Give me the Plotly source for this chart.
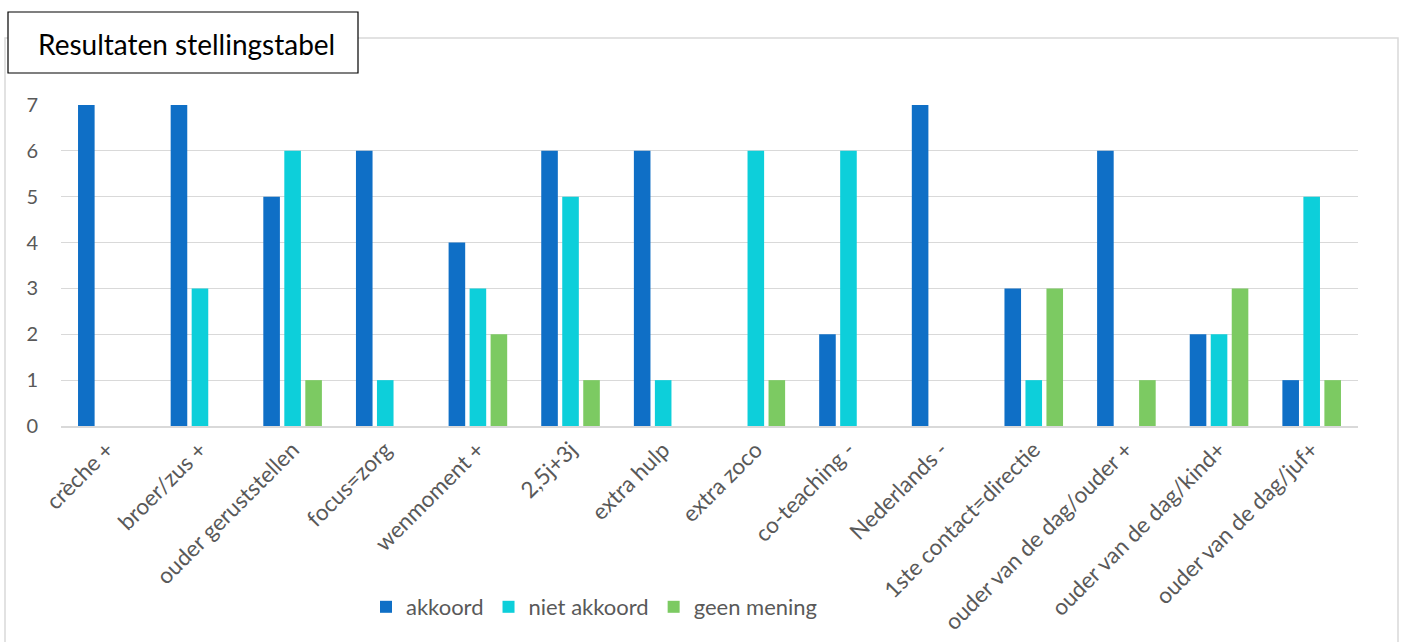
import plotly.graph_objects as go

categories = ["crèche +", "broer/zus +", "ouder geruststellen", "focus=zorg", "wenmoment +",
              "2,5j+3j", "extra hulp", "extra zoco", "co-teaching -", "Nederlands -",
              "1ste contact=directie", "ouder van de dag/ouder +", "ouder van de dag/kind+",
              "ouder van de dag/juf+"]
akkoord = [7, 7, 5, 6, 4, 6, 6, 0, 2, 7, 3, 6, 2, 1]
niet_akkoord = [0, 3, 6, 1, 3, 5, 1, 6, 6, 0, 1, 0, 2, 5]
geen_mening = [0, 0, 1, 0, 2, 1, 0, 1, 0, 0, 3, 1, 3, 1]
series_names = ["akkoord", "niet akkoord", "geen mening"]
colors = ["#0F6FC6", "#0DCFDA", "#7CCA62"]
y_ticks = [0, 1, 2, 3, 4, 5, 6, 7]

FONT = "Lato, Calibri, sans-serif"
W, H = 1403, 642
L, R, T, B = 61, 45, 105, 216
pw, ph = W - L - R, H - T - B

def px(x):
    return (x - L) / pw

def py(y):
    return (H - B - y) / ph

fig = go.Figure()
for name, vals, col in zip(series_names, [akkoord, niet_akkoord, geen_mening], colors):
    fig.add_trace(go.Bar(x=categories, y=vals, name=name, marker=dict(color=col, line=dict(width=0))))

fig.update_layout(
    width=W, height=H,
    margin=dict(l=L, r=R, t=T, b=B, autoexpand=False),
    paper_bgcolor="white", plot_bgcolor="white",
    barmode="group", bargap=0.32, bargroupgap=0.21,
    font=dict(family=FONT, color="#595959", size=18),
    showlegend=True,
    legend=dict(orientation="h", x=px(366), xanchor="left", y=py(607), yanchor="middle",
                font=dict(size=22, color="#595959"), itemwidth=30,
                bgcolor="rgba(0,0,0,0)"),
    xaxis=dict(tickangle=-45, showgrid=False, showline=True, linecolor="#d9d9d9", linewidth=1.5,
               ticks="", tickfont=dict(size=22.5, color="#595959"), fixedrange=True,
               automargin=False),
    yaxis=dict(range=[0, 7], tickvals=y_ticks, showgrid=True, gridcolor="#d9d9d9", gridwidth=1.3,
               zeroline=False, showline=False, ticks="", tickfont=dict(size=20, color="#595959"),
               ticklabelstandoff=22, fixedrange=True, automargin=False),
    shapes=[
        dict(type="rect", xref="paper", yref="paper", x0=px(5), x1=px(1398), y0=py(700), y1=py(38),
             line=dict(color="#d9d9d9", width=1.5), fillcolor="rgba(0,0,0,0)", layer="below"),
        dict(type="rect", xref="paper", yref="paper", x0=px(8), x1=px(358), y0=py(73), y1=py(12),
             line=dict(color="#000000", width=1.2), fillcolor="white", layer="above"),
    ],
    annotations=[
        dict(text="Resultaten stellingstabel", xref="paper", yref="paper", x=px(186), y=py(44),
             xanchor="center", yanchor="middle", showarrow=False,
             font=dict(family=FONT, size=28, color="#000000")),
    ],
)

fig.write_html("out.html", config={"displayModeBar": False},
               post_script="document.body.style.margin='0px';")
